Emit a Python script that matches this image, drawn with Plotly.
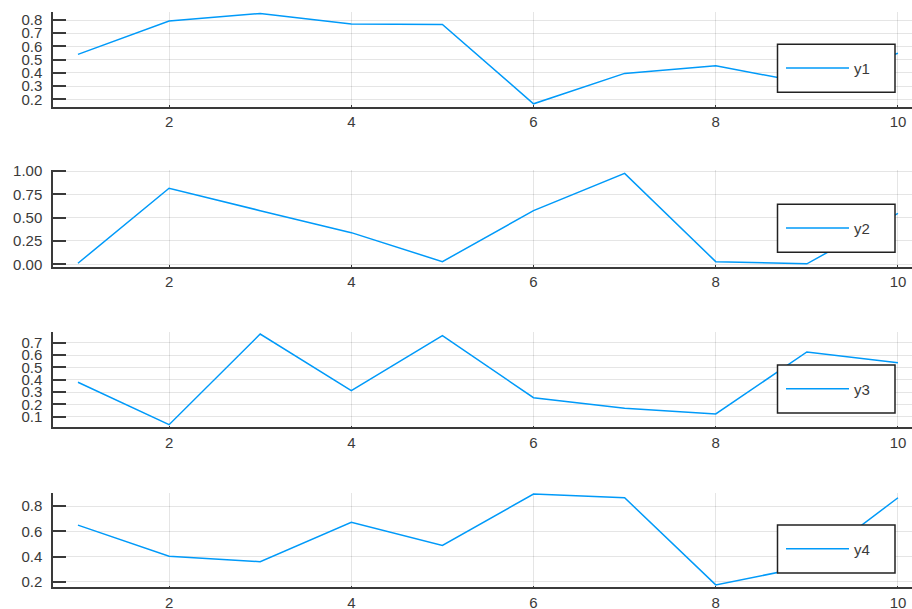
import plotly.graph_objects as go

W, H = 912, 609

x = [1, 2, 3, 4, 5, 6, 7, 8, 9, 10]
y1 = [0.54, 0.792, 0.85, 0.77, 0.767, 0.166, 0.396, 0.454, 0.323, 0.548]
y2 = [0.011, 0.815, 0.575, 0.339, 0.028, 0.575, 0.975, 0.028, 0.005, 0.546]
y3 = [0.379, 0.035, 0.77, 0.311, 0.757, 0.254, 0.168, 0.122, 0.625, 0.538]
y4 = [0.649, 0.403, 0.359, 0.671, 0.488, 0.895, 0.866, 0.175, 0.32, 0.866]
series = [y1, y2, y3, y4]
names = ["y1", "y2", "y3", "y4"]

xticks = [2, 4, 6, 8, 10]
yticks = [
    [0.2, 0.3, 0.4, 0.5, 0.6, 0.7, 0.8],
    [0.0, 0.25, 0.5, 0.75, 1.0],
    [0.1, 0.2, 0.3, 0.4, 0.5, 0.6, 0.7],
    [0.2, 0.4, 0.6, 0.8],
]
yticktext = [
    ["0.2", "0.3", "0.4", "0.5", "0.6", "0.7", "0.8"],
    ["0.00", "0.25", "0.50", "0.75", "1.00"],
    ["0.1", "0.2", "0.3", "0.4", "0.5", "0.6", "0.7"],
    ["0.2", "0.4", "0.6", "0.8"],
]
yranges = [[0.144, 0.863], [-0.026, 1.011], [0.014, 0.789], [0.156, 0.906]]
xrange_ = [0.726, 10.154]

# subplot pixel extents (top, bottom)
panels = [(11.7, 106.7), (170.0, 266.7), (331.7, 427.3), (492.7, 587.3)]
LEFT = 53.0

COLOR = "#009af9"
FONT = "Liberation Sans, Arial, sans-serif"
TXT = "#3a3a3a"
AX = "#3a3a3a"
GRID = "rgba(0,0,0,0.1)"
FS = 15

def py(p):
    return 1 - p / H

def pxx(p):
    return p / W

fig = go.Figure()
layout = dict(
    width=W, height=H,
    margin=dict(l=0, r=0, t=0, b=0, autoexpand=False),
    paper_bgcolor="white", plot_bgcolor="white",
    font=dict(family=FONT, size=FS, color=TXT),
    showlegend=True,
)
shapes = []
for i in range(4):
    k = "" if i == 0 else str(i + 1)
    top, bot = panels[i]
    legname = "legend" + k
    fig.add_trace(go.Scatter(
        x=x, y=series[i], mode="lines", name=names[i],
        line=dict(color=COLOR, width=1.5),
        xaxis="x" + k, yaxis="y" + k, legend=legname,
    ))
    layout["xaxis" + k] = dict(
        domain=[pxx(LEFT), 1.0], range=xrange_, anchor="y" + k,
        tickvals=xticks, ticktext=[str(v) for v in xticks],
        showgrid=True, gridcolor=GRID, gridwidth=1,
        zeroline=False, showline=True, linecolor=AX, linewidth=1.5,
        ticks="inside", ticklen=2, tickcolor=AX, tickwidth=1,
        tickfont=dict(family=FONT, size=FS, color=TXT),
        ticklabelstandoff=1,
        automargin=False, fixedrange=True,
    )
    layout["yaxis" + k] = dict(
        domain=[py(bot), py(top)], range=yranges[i], anchor="x" + k,
        tickvals=yticks[i], ticktext=yticktext[i],
        showgrid=True, gridcolor=GRID, gridwidth=1,
        zeroline=False, showline=True, linecolor=AX, linewidth=1.5,
        ticks="inside", ticklen=13, tickcolor=AX, tickwidth=1.5,
        tickfont=dict(family=FONT, size=FS, color=TXT),
        ticklabelstandoff=6,
        automargin=False, fixedrange=True,
    )
    # legend box
    btop = bot - 62.4
    bbot = bot - 14.4
    shapes.append(dict(
        type="rect", xref="paper", yref="paper",
        x0=pxx(777.5), x1=pxx(895), y0=py(bbot), y1=py(btop),
        fillcolor="white", line=dict(color="#222222", width=1.5), layer="above",
    ))
    layout[legname] = dict(
        x=pxx(781), y=py((btop + bbot) / 2), xanchor="left", yanchor="middle",
        xref="paper", yref="paper",
        bgcolor="rgba(0,0,0,0)", borderwidth=0,
        itemwidth=63,
        font=dict(family=FONT, size=FS, color=TXT),
    )
layout["shapes"] = shapes
fig.update_layout(**layout)
fig.write_html(
    "out.html",
    config={"displayModeBar": False},
    post_script="document.body.style.margin='0px';document.body.style.overflow='hidden';",
)
